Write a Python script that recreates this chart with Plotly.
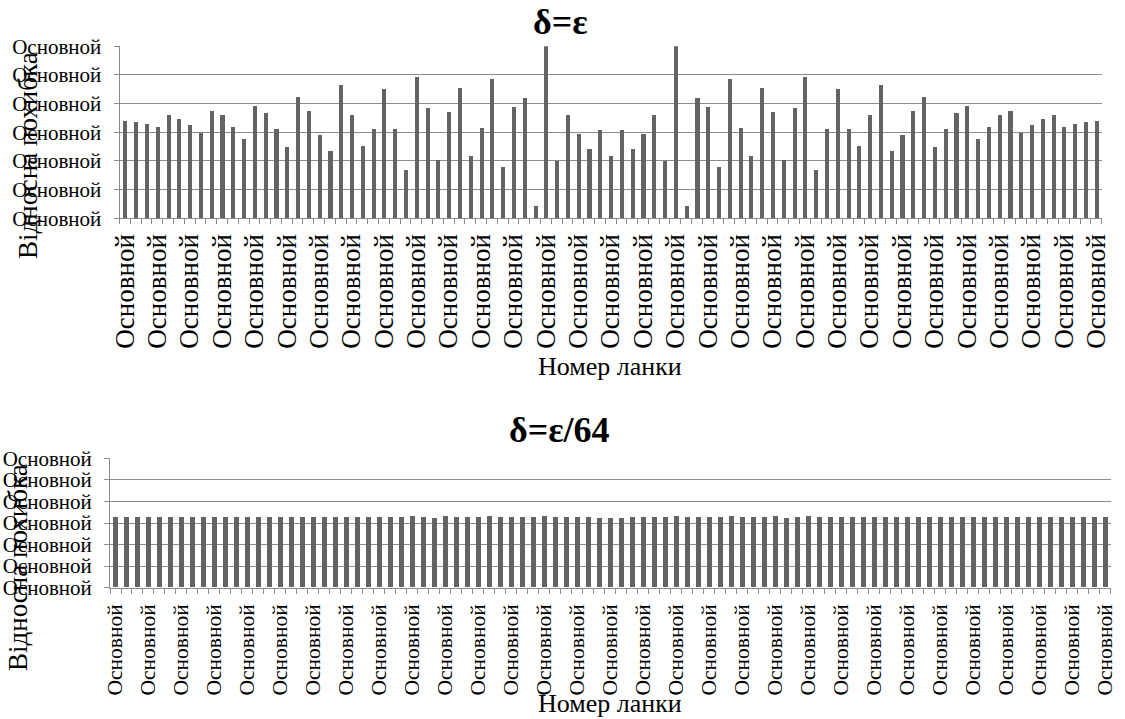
import plotly.graph_objects as go

W, H = 1125, 719

# ---- data ----
links = list(range(1, 92))
err_eps = [3.39, 3.36, 3.27, 3.17, 3.59, 3.46, 3.23, 2.96, 3.74, 3.58,
           3.18, 2.74, 3.90, 3.68, 3.10, 2.46, 4.23, 3.72, 2.90, 2.35,
           4.64, 3.60, 2.52, 3.12, 4.51, 3.12, 1.69, 4.92, 3.85, 2.02,
           3.69, 4.52, 2.17, 3.15, 4.84, 1.79, 3.88, 4.20, 0.42, 6.00,
           1.98, 3.59, 2.94, 2.42, 3.08, 2.18, 3.08, 2.42, 2.94, 3.59,
           1.98, 6.00, 0.42, 4.20, 3.88, 1.79, 4.84, 3.15, 2.17, 4.52,
           3.69, 2.02, 3.85, 4.92, 1.69, 3.12, 4.51, 3.12, 2.52, 3.60,
           4.64, 2.35, 2.90, 3.72, 4.23, 2.46, 3.10, 3.68, 3.90, 2.74,
           3.18, 3.58, 3.74, 2.96, 3.23, 3.46, 3.59, 3.17, 3.27, 3.36,
           3.39]
err_eps64 = [3.28, 3.28, 3.28, 3.28, 3.28, 3.28, 3.28, 3.28, 3.28, 3.28,
             3.28, 3.28, 3.28, 3.28, 3.28, 3.28, 3.28, 3.28, 3.28, 3.28,
             3.28, 3.28, 3.28, 3.28, 3.28, 3.26, 3.25, 3.29, 3.28, 3.23,
             3.29, 3.26, 3.26, 3.25, 3.29, 3.26, 3.25, 3.26, 3.26, 3.29,
             3.26, 3.25, 3.26, 3.26, 3.21, 3.23, 3.21, 3.26, 3.26, 3.25,
             3.26, 3.29, 3.28, 3.26, 3.25, 3.26, 3.29, 3.25, 3.28, 3.26,
             3.29, 3.23, 3.28, 3.29, 3.25, 3.26, 3.26, 3.26, 3.26, 3.26,
             3.26, 3.26, 3.26, 3.26, 3.26, 3.26, 3.26, 3.26, 3.26, 3.26,
             3.26, 3.26, 3.26, 3.26, 3.26, 3.26, 3.26, 3.26, 3.26, 3.26,
             3.26]
y_ticks = [0, 1, 2, 3, 4, 5, 6]
tick_label = "Основной"
x_label_positions = list(range(1, 92, 3))
title_top = "δ=ε"
title_bottom = "δ=ε/64"
x_title = "Номер ланки"
y_title = "Відносна похибка"

BAR = "#636363"
GRID = "#8c8c8c"
FONT = "Liberation Serif, Times New Roman, serif"

fig = go.Figure()
fig.add_trace(go.Bar(x=links, y=err_eps, marker=dict(color=BAR, line=dict(width=0)),
                     width=0.38, xaxis="x", yaxis="y", showlegend=False, hoverinfo="skip"))
fig.add_trace(go.Bar(x=links, y=err_eps64, marker=dict(color=BAR, line=dict(width=0)),
                     width=0.45, xaxis="x2", yaxis="y2", showlegend=False, hoverinfo="skip"))


def px(x):
    return x / W


def py(y):
    return 1 - y / H


common_x = dict(range=[0.5, 91.5], tickmode="array", tickvals=x_label_positions,
                ticktext=[tick_label] * len(x_label_positions), tickangle=-90,
                ticks="", showgrid=False, showline=True, linecolor=GRID, linewidth=1,
                zeroline=False, automargin=False, fixedrange=True,
                minor=dict(ticks="outside", tickmode="linear", tick0=0.5, dtick=1,
                           ticklen=5, tickcolor=GRID, showgrid=False))
common_y = dict(range=[0, 6], tickmode="array", tickvals=y_ticks,
                ticktext=[tick_label] * len(y_ticks), ticks="outside", ticklen=5,
                tickcolor=GRID, showgrid=True, gridcolor=GRID, gridwidth=1,
                showline=True, linecolor=GRID, linewidth=1, zeroline=False,
                automargin=False, fixedrange=True, ticklabelstandoff=8)

fig.update_layout(
    template="none",
    width=W, height=H,
    margin=dict(l=0, r=0, t=0, b=0, autoexpand=False),
    paper_bgcolor="white", plot_bgcolor="white",
    font=dict(family=FONT, color="black"),
    bargap=0,
    xaxis=dict(common_x, domain=[px(119.5), px(1101.7)], anchor="y",
               ticklabelstandoff=4,
               tickfont=dict(family=FONT, size=27, color="black")),
    yaxis=dict(common_y, domain=[py(218.3), py(46.3)], anchor="x",
               tickfont=dict(family=FONT, size=21, color="black")),
    xaxis2=dict(common_x, domain=[px(110), px(1110.7)], anchor="y2",
                ticklabelstandoff=7,
                tickfont=dict(family=FONT, size=21.5, color="black")),
    yaxis2=dict(common_y, domain=[py(587.7), py(458.3)], anchor="x2",
                tickfont=dict(family=FONT, size=21, color="black")),
)

ann = [
    dict(text="<b>" + title_top + "</b>", x=px(560), y=py(22), font=dict(size=36)),
    dict(text="<b>" + title_bottom + "</b>", x=px(559), y=py(430), font=dict(size=36)),
    dict(text=x_title, x=px(610), y=py(366), font=dict(size=26)),
    dict(text=x_title, x=px(610), y=py(703), font=dict(size=26)),
    dict(text=y_title, x=px(28), y=py(156), font=dict(size=27), textangle=-90),
    dict(text=y_title, x=px(18), y=py(568), font=dict(size=27), textangle=-90),
]
for a in ann:
    a.update(xref="paper", yref="paper", showarrow=False, xanchor="center", yanchor="middle")
    a["font"]["family"] = FONT
    a["font"]["color"] = "black"
fig.update_layout(annotations=ann)

fig.write_html(
    "out.html",
    config={"displayModeBar": False},
    post_script="document.body.style.margin='0';document.body.style.overflow='hidden';",
)
